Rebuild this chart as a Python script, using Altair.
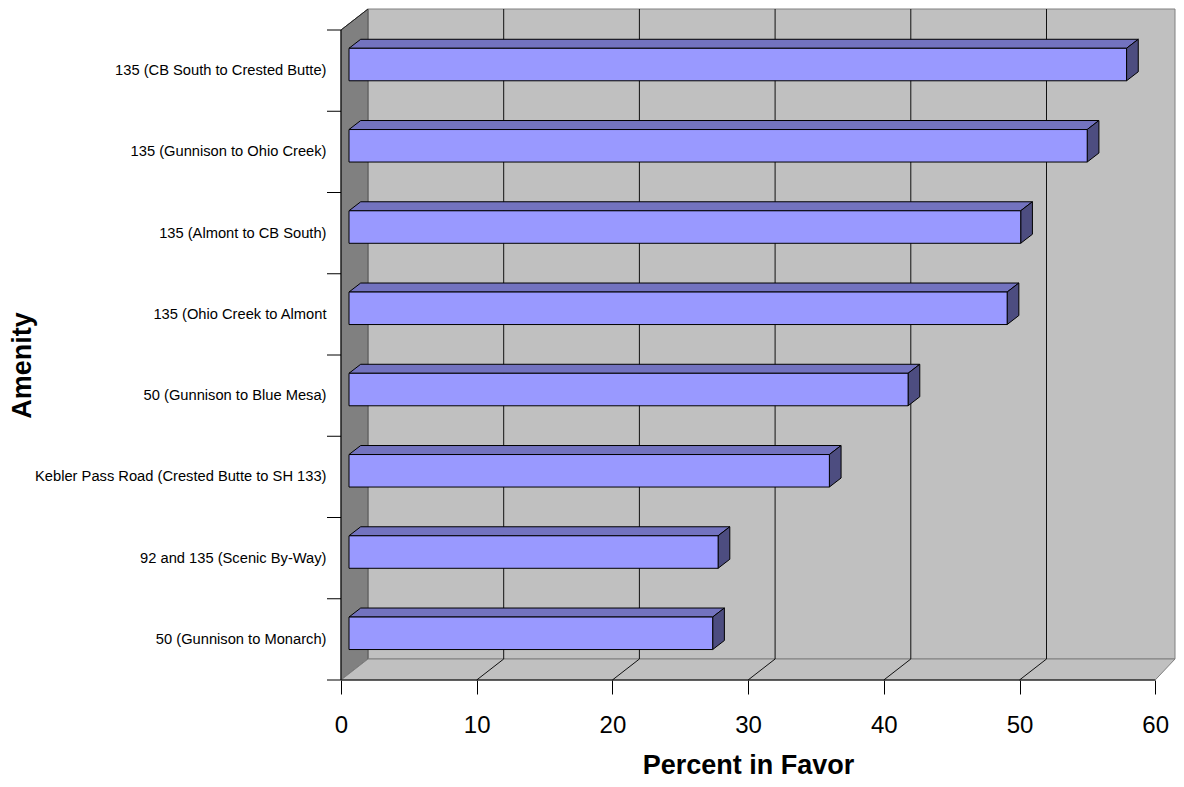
import json
import altair as alt

CATEGORIES = [
    "50 (Gunnison to Monarch)",
    "92 and 135 (Scenic By-Way)",
    "Kebler Pass Road (Crested Butte to SH 133)",
    "50 (Gunnison to Blue Mesa)",
    "135 (Ohio Creek to Almont",
    "135 (Almont to CB South)",
    "135 (Gunnison to Ohio Creek)",
    "135 (CB South to Crested Butte)",
]
VALUES = [26.8, 27.2, 35.4, 41.2, 48.5, 49.5, 54.4, 57.3]
X_TICKS = [0, 10, 20, 30, 40, 50, 60]

# 3-D projection of the chart box, in data units
PX_X, PX_Y = 13.57, 81.25
DX, DY = 27 / PX_X, 21 / PX_Y
PLOT_W, PLOT_H = 835, 671
X_MAX, Y_MAX = PLOT_W / PX_X, PLOT_H / PX_Y
WALL_END = 834 / PX_X
N = len(CATEGORIES)
BAR_X0 = 8 / PX_X
BAR_DX, BAR_DY = 11.7 / PX_X, 9 / PX_Y
BAR_LO, BAR_HI = 0.375, 0.775
TICK_X = -14 / PX_X

FONT = "Liberation Sans"
xs = alt.Scale(domain=[0, X_MAX], nice=False, zero=False)
ys = alt.Scale(domain=[0, Y_MAX], nice=False, zero=False)

X_AXIS = alt.Axis(
    values=X_TICKS, domain=False, grid=False, tickSize=14, tickColor="#000000",
    labelFont=FONT, labelFontSize=24, labelColor="#000000", labelPadding=38,
    labelBaseline="alphabetic", labelFlush=False, labelOverlap=False,
    title="Percent in Favor", titleFont=FONT, titleFontSize=27, titleFontWeight="bold",
    titleColor="#000000", titleX=407, titleY=93, titleAnchor="middle", titleAlign="center",
    titleBaseline="alphabetic",
)
Y_AXIS = alt.Axis(
    values=[k + 0.5 for k in range(N)], domain=False, grid=False, ticks=False,
    labelExpr=json.dumps(CATEGORIES) + "[floor(datum.value)]",
    labelFont=FONT, labelFontSize=14.7, labelColor="#000000", labelPadding=15,
    labelOverlap=False, labelFlush=False, labelLimit=400,
    title="Amenity", titleFont=FONT, titleFontSize=27, titleFontWeight="bold",
    titleColor="#000000", titleX=-311, titleY=356, titleAnchor="middle", titleAlign="center",
    titleBaseline="alphabetic",
)


def X(f="x"):
    return alt.X(f"{f}:Q", scale=xs, axis=X_AXIS)


def Y(f="y"):
    return alt.Y(f"{f}:Q", scale=ys, axis=Y_AXIS)


def X2(f="x2"):
    return alt.X2(f"{f}:Q")


def Y2(f="y2"):
    return alt.Y2(f"{f}:Q")


def d(rows):
    return alt.Data(values=rows)


def segs(rows, color, width=1):
    pts = []
    for i, (a, b, c, e) in enumerate(rows):
        pts += [{"id": i, "o": 0, "x": a, "y": b}, {"id": i, "o": 1, "x": c, "y": e}]
    return alt.Chart(d(pts)).mark_line(color=color, strokeWidth=width).encode(
        x=X(), y=Y(), detail="id:N", order="o:Q"
    )


# walls and floor
back = alt.Chart(d([{"x": DX, "x2": WALL_END, "y": DY, "y2": Y_MAX}])).mark_rect(
    fill="#C0C0C0", stroke="#808080", strokeWidth=1
).encode(x=X(), x2=X2(), y=Y(), y2=Y2())

left = alt.Chart(d([
    {"x": 0, "y": 0, "y2": N},
    {"x": DX, "y": DY, "y2": Y_MAX},
])).mark_area(orient="vertical", fill="#808080", stroke="#555555", strokeWidth=1).encode(
    x=X(), y=Y(), y2=Y2()
)

floor = alt.Chart(d([
    {"y": 0, "x": 0, "x2": 60},
    {"y": DY, "x": DX, "x2": WALL_END},
])).mark_area(orient="horizontal", fill="#C0C0C0", stroke="#808080", strokeWidth=1).encode(
    y=Y(), x=X(), x2=X2()
)

grid_back = segs([(t + DX, DY, t + DX, Y_MAX) for t in X_TICKS[1:-1]], "#111111")
grid_floor = segs([(t, 0, t + DX, DY) for t in X_TICKS[1:-1]], "#111111")
top_edge = segs([(0, N, DX, Y_MAX)], "#222222")

axis_lines = segs(
    [(0, 0, 60, 0), (0, 0, 0, N)] + [(TICK_X, k, 0, k) for k in range(N + 1)],
    "#000000",
)

# bars
front_rows, top_rows, side_rows = [], [], []
for i, v in enumerate(VALUES):
    lo, hi = i + BAR_LO, i + BAR_HI
    x0, x1 = BAR_X0, BAR_X0 + v
    front_rows.append({"x": x0, "x2": x1, "y": lo, "y2": hi})
    top_rows += [
        {"id": i, "y": hi, "x": x0, "x2": x1},
        {"id": i, "y": hi + BAR_DY, "x": x0 + BAR_DX, "x2": x1 + BAR_DX},
    ]
    side_rows += [
        {"id": i, "x": x1, "y": lo, "y2": hi},
        {"id": i, "x": x1 + BAR_DX, "y": lo + BAR_DY, "y2": hi + BAR_DY},
    ]

bar_top = alt.Chart(d(top_rows)).mark_area(
    orient="horizontal", fill="#7373BF", stroke="#000000", strokeWidth=1
).encode(y=Y(), x=X(), x2=X2(), detail="id:N")
bar_side = alt.Chart(d(side_rows)).mark_area(
    orient="vertical", fill="#4D4D80", stroke="#000000", strokeWidth=1
).encode(x=X(), y=Y(), y2=Y2(), detail="id:N")
bar_front = alt.Chart(d(front_rows)).mark_rect(
    fill="#9999FF", stroke="#000000", strokeWidth=1
).encode(x=X(), x2=X2(), y=Y(), y2=Y2())

chart = alt.layer(
    back, left, floor, grid_back, grid_floor, top_edge, axis_lines,
    bar_top, bar_side, bar_front,
).properties(
    width=PLOT_W, height=PLOT_H,
    autosize=alt.AutoSizeParams(type="none"),
    padding={"left": 333, "top": 1, "right": 0, "bottom": 99},
    background="#FFFFFF",
).configure_view(stroke=None)

chart.save("out.html", embed_options={"renderer": "svg", "actions": False})
